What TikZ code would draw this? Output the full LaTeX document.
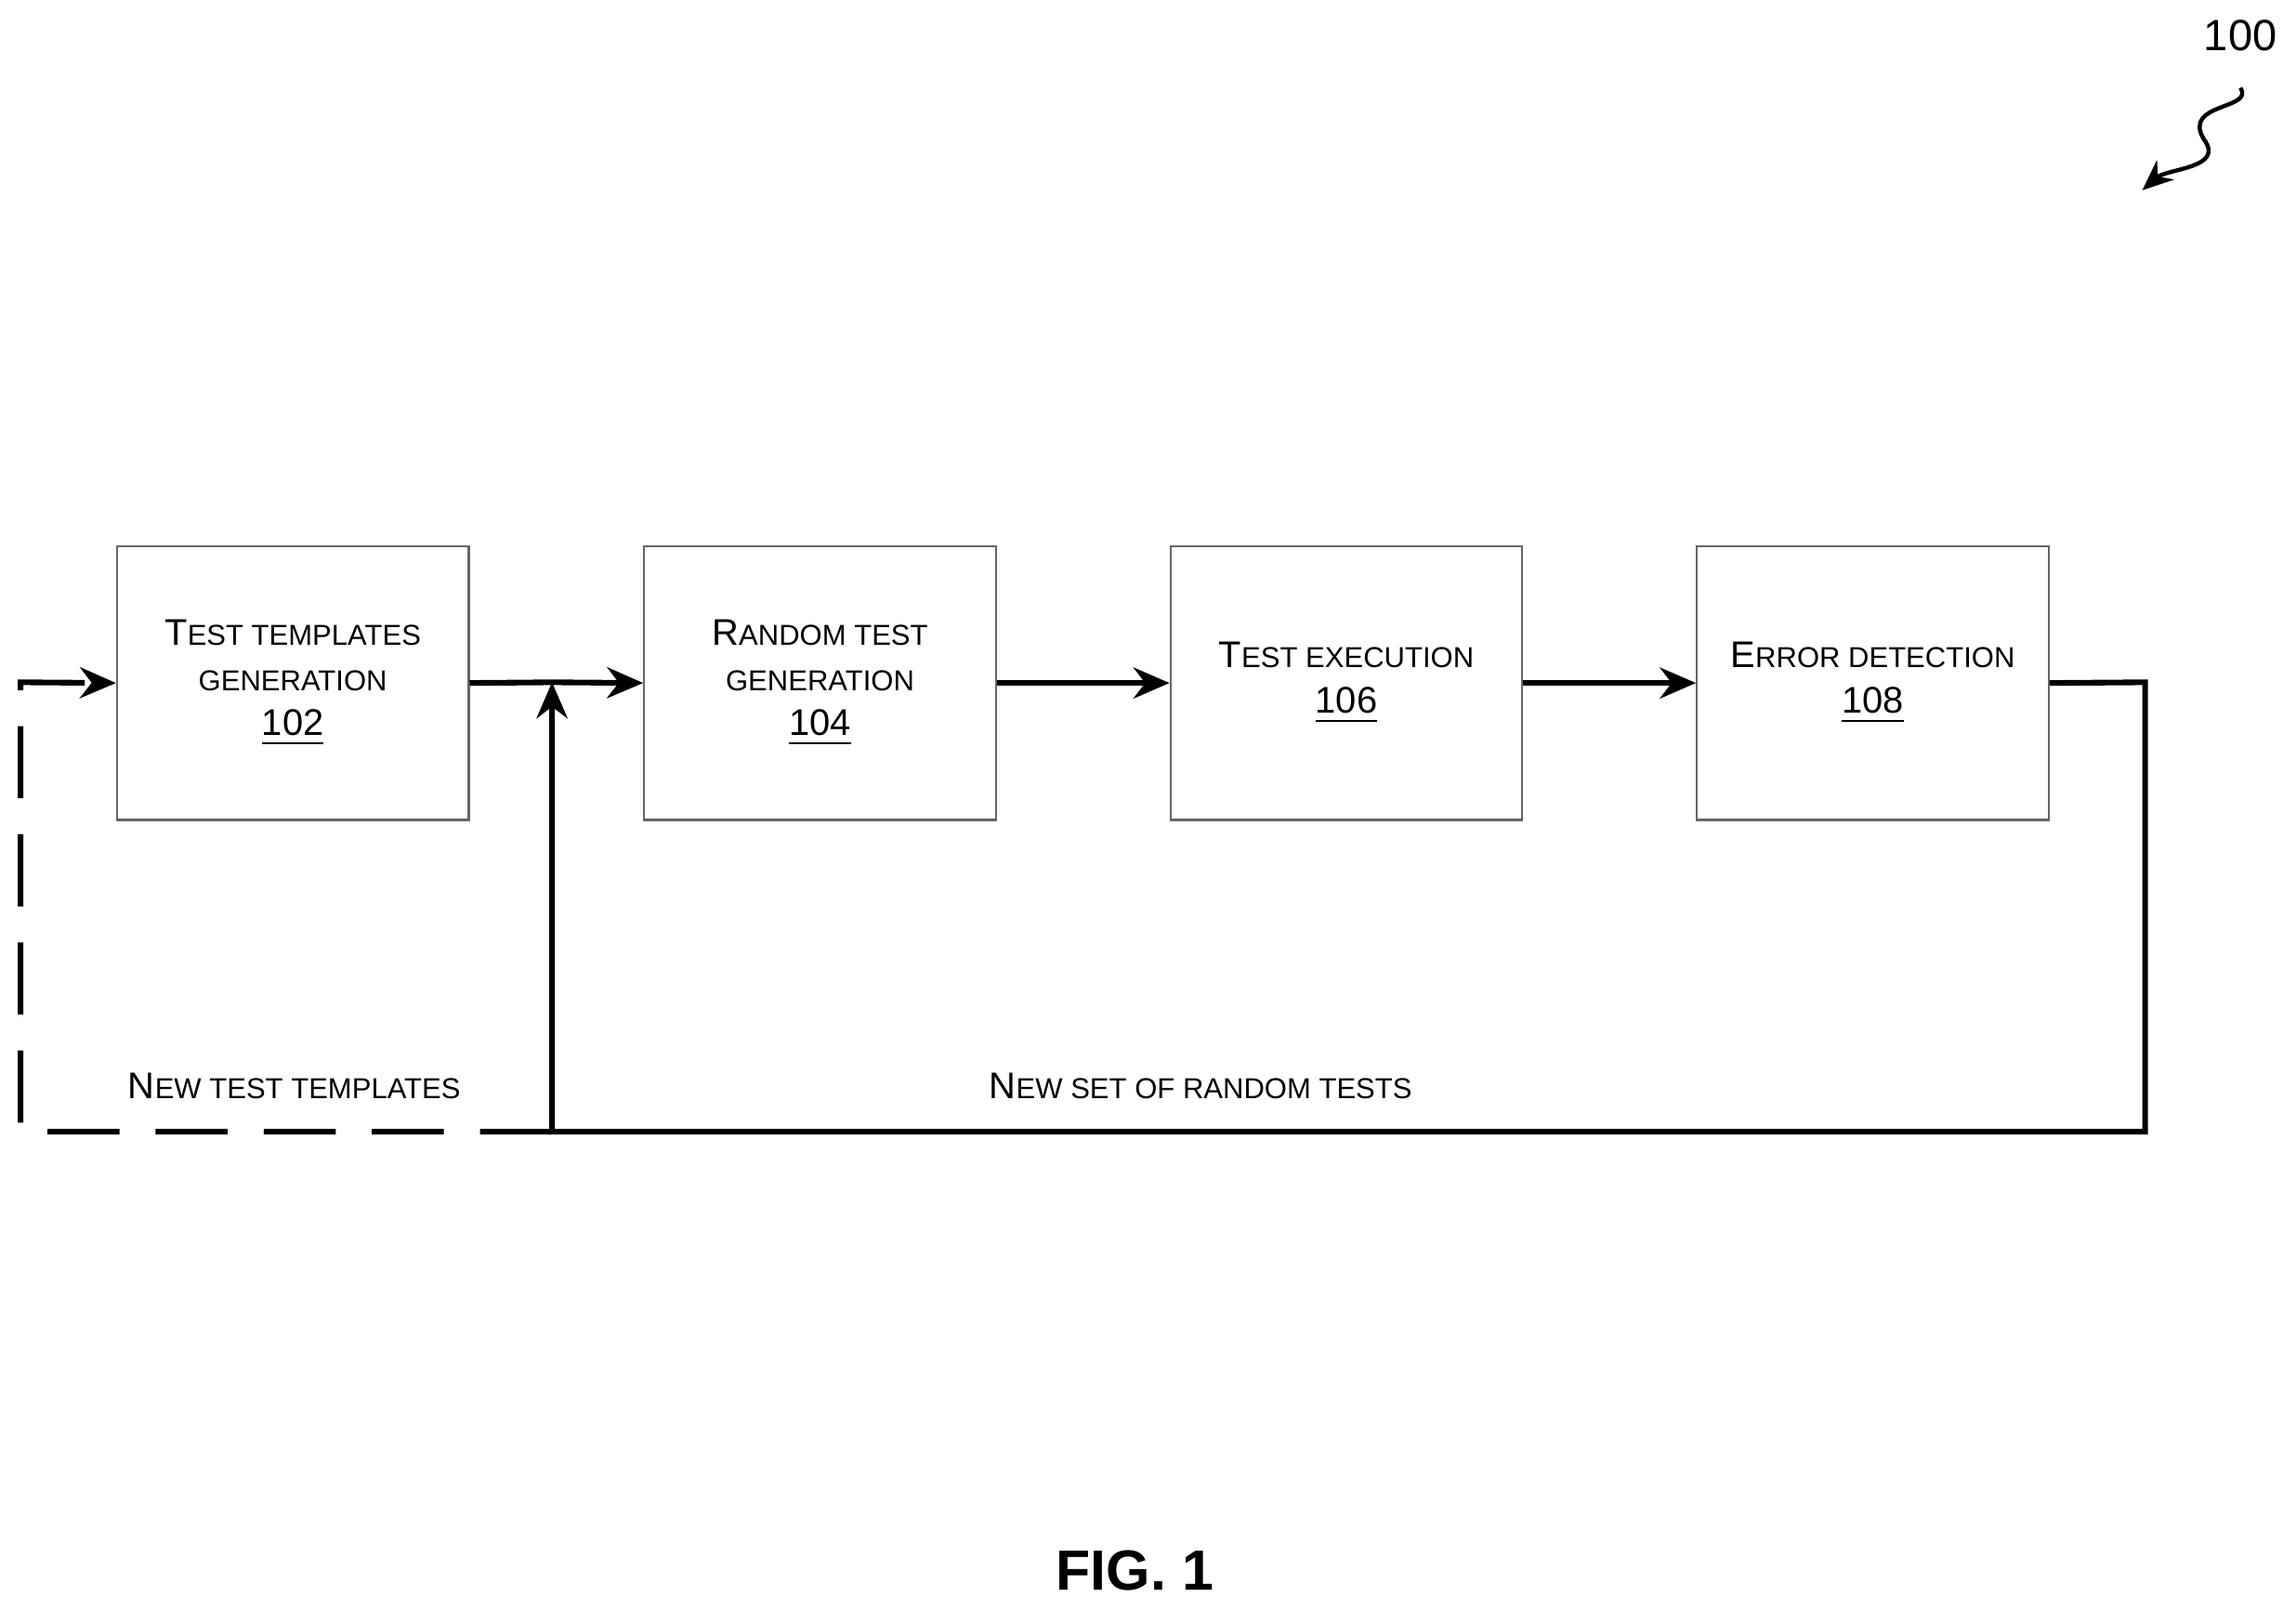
\documentclass[tikz,border=0pt]{standalone}
\usepackage{fontspec}
\setmainfont{Liberation Sans}
\usetikzlibrary{arrows.meta,decorations.pathmorphing}
\newcommand\Sm[1]{{\fontsize{5.6}{8.8}\selectfont #1}}
\newcommand\Bg[1]{{\fontsize{7.2}{8.8}\selectfont #1}}
\begin{document}
\begin{tikzpicture}[x=0.01cm,y=-0.01cm,
  box/.style={draw=black!60,line width=0.4pt,minimum width=2.4cm,minimum height=1.87cm,align=center,font=\fontsize{7.2}{8.8}\selectfont},
  ln/.style={line width=1.1pt},
  arr/.style={ln,-{Stealth[length=7pt,width=6pt]}}]
\useasboundingbox (0,0) rectangle (1568,1100);
\node[box] (b102) at (200,466.5) {\Bg{T}\Sm{EST TEMPLATES}\\\Sm{GENERATION}\\\underline{102}};
\node[box] (b104) at (560,466.5) {\Bg{R}\Sm{ANDOM TEST}\\\Sm{GENERATION}\\\underline{104}};
\node[box] (b106) at (919.5,466.5) {\Bg{T}\Sm{EST EXECUTION}\\\underline{106}};
\node[box] (b108) at (1279,466.5) {\Bg{E}\Sm{RROR DETECTION}\\\underline{108}};
\coordinate (m) at (377,466);
\coordinate (bl) at (377,773);
\coordinate (dl) at (14,773);
\coordinate (dt) at (14,466);
\coordinate (r1) at (1465,466);
\coordinate (r2) at (1465,773);
\draw[ln] (b102.east) -- (m);
\draw[arr] (m) -- (b104.west);
\draw[arr] (b104.east) -- (b106.west);
\draw[arr] (b106.east) -- (b108.west);
\draw[arr] (b108.east) -- (r1) -- (r2) -- (bl) -- (m);
\draw[arr,dash pattern=on 14pt off 7pt] (bl) -- (dl) -- (dt) -- (b102.west);
\node (l1) at (201,742) {\Bg{N}\Sm{EW TEST TEMPLATES}};
\node (l2) at (820,742) {\Bg{N}\Sm{EW SET OF RANDOM TESTS}};
\node[font=\bfseries\fontsize{11}{13}\selectfont] (fig) at (775,1073) {FIG. 1};
\node[font=\fontsize{8.5}{10}\selectfont] (n100) at (1530,24) {100};
\coordinate (s0) at (1530,60);
\coordinate (s1) at (1463,130);
\draw[line width=0.8pt,-{Stealth[length=6pt,width=5pt]}] (s0) .. controls (1540,75) and (1490,70) .. (1505,95) .. controls (1520,115) and (1480,115) .. (s1);
\end{tikzpicture}
\end{document}
